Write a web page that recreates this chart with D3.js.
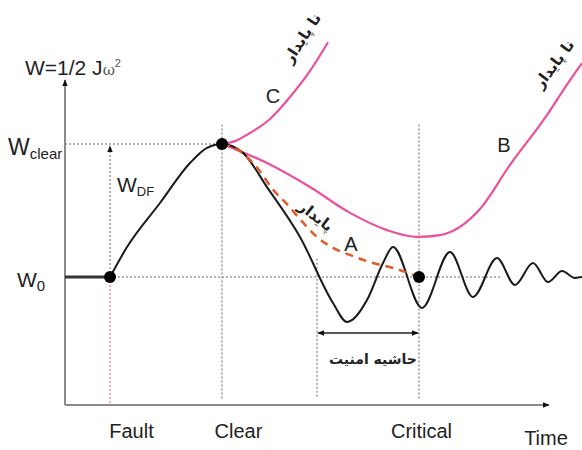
<!DOCTYPE html>
<html>
<head>
<meta charset="utf-8">
<script src="https://cdn.jsdelivr.net/npm/d3@7"></script>
<style>
  body { margin: 0; background: #fff; }
  text { fill: #222; }
</style>
</head>
<body>
<svg id="chart" width="582" height="450"></svg>
<script>
// Time instants of the events on the time axis
const eventNames = ["Fault", "Clear", "Critical"];
const eventTimes = [0.9, 3.14, 7.08];
const marginStartTime = 5.04;   // left edge of the safety margin

// Kinetic energy levels
const W0 = 4.9;
const Wclear = 10;

// Rotor energy before the fault
const preFaultT = [0, 0.9];
const preFaultW = [4.9, 4.9];

// Swing of the rotor energy after the fault (black curve)
const swingT = [0.9, 1.24, 1.9, 2.5, 2.84, 3.14, 3.56, 4.04, 4.7, 5.36, 5.64, 6.04, 6.36, 6.56, 7.14, 7.7, 8.16, 8.64, 9.0, 9.36, 9.66, 9.94, 10.2, 10.34];
const swingW = [4.9, 6.05, 7.74, 9.27, 9.85, 10, 9.66, 8.35, 6.44, 3.91, 3.18, 4.02, 5.44, 6.05, 3.72, 5.86, 4.14, 5.63, 4.6, 5.44, 4.71, 5.13, 4.87, 4.9];

// Case A: stable, dashed curve reaching W0 at the critical time
const caseAT = [3.14, 3.5, 3.86, 4.14, 4.46, 4.7, 5.04, 5.36, 5.7, 6.16, 6.56, 7.08];
const caseAW = [10, 9.72, 9.05, 8.3, 7.65, 7.12, 6.44, 6.02, 5.75, 5.44, 5.25, 4.9];

// Case B: unstable after passing a minimum
const caseBT = [3.14, 4.04, 4.9, 5.7, 6.44, 7.04, 7.5, 8.3, 8.9, 9.6, 10.1, 10.34];
const caseBW = [10, 9.27, 8.35, 7.36, 6.7, 6.44, 6.51, 7.51, 9.2, 11.0, 12.45, 13.1];

// Case C: unstable right after clearing
const caseCT = [3.14, 3.4, 3.7, 4.1, 4.5, 4.9, 5.26];
const caseCW = [10, 10.11, 10.42, 10.96, 11.8, 12.8, 13.9];

const stableLabel = "پایدار";
const unstableLabel = "نا پایدار";
const marginLabel = "حاشیه امنیت";

const svg = d3.select("#chart");
const latin = "'Liberation Sans', Arial, sans-serif";
const persian = "'DejaVu Sans', sans-serif";

const x = d3.scaleLinear().domain([0, 10]).range([65, 565]);
const y = d3.scaleLinear().domain([0, 10]).range([405, 144]);

const pink = "#ec4f9c";
const orange = "#e2592a";
const guide = "#9a9a9a";

const defs = svg.append("defs");
defs.append("marker")
  .attr("id", "arrow")
  .attr("viewBox", "0 0 10 10")
  .attr("refX", 9).attr("refY", 5)
  .attr("markerWidth", 7).attr("markerHeight", 7)
  .attr("markerUnits", "userSpaceOnUse")
  .attr("orient", "auto-start-reverse")
  .append("path").attr("d", "M0,1L10,5L0,9z").attr("fill", "#111");

// Dotted guide lines
function dotted(x1, y1, x2, y2, color) {
  return svg.append("line")
    .attr("x1", x1).attr("y1", y1).attr("x2", x2).attr("y2", y2)
    .attr("stroke", color || guide)
    .attr("stroke-width", 1.5)
    .attr("stroke-dasharray", "2,2");
}
const [tFault, tClear, tCritical] = eventTimes;
dotted(x(0), y(Wclear), x(tClear), y(Wclear));
dotted(x(tFault), y(W0), x(8.7), y(W0));
dotted(x(tFault), y(W0), x(tFault), y(0), "#f08cbc");
dotted(x(tClear), y(10.75), x(tClear), y(0.25));
dotted(x(tCritical), y(10.75), x(tCritical), y(0.25));
dotted(x(marginStartTime), y(5.6), x(marginStartTime), y(0.25));
dotted(x(tFault), y(W0) - 8, x(tFault), y(Wclear) + 2).attr("marker-end", "url(#arrow)");

// Axes
const xAxis = d3.axisBottom(x)
  .tickValues(eventTimes)
  .tickSize(0)
  .tickFormat((d, i) => eventNames[i]);
const gx = svg.append("g").attr("transform", `translate(0,${y(0)})`).call(xAxis);
gx.select(".domain").remove();
const labelShift = { Fault: 21, Clear: 16, Critical: 2 };
gx.selectAll(".tick text")
  .attr("y", 33).attr("dy", 0)
  .attr("dx", (d, i) => labelShift[eventNames[i]])
  .style("font-family", latin).style("font-size", "20px").style("fill", "#222");

svg.append("line")
  .attr("x1", x(0)).attr("y1", y(0)).attr("x2", x(9.68)).attr("y2", y(0))
  .attr("stroke", "#8a8a8a").attr("stroke-width", 2)
  .attr("marker-end", "url(#arrow)");
svg.append("line")
  .attr("x1", x(0)).attr("y1", y(0)).attr("x2", x(0)).attr("y2", y(12.45))
  .attr("stroke", "#8a8a8a").attr("stroke-width", 2)
  .attr("marker-end", "url(#arrow)");

svg.append("text").attr("x", 546).attr("y", 445)
  .attr("text-anchor", "middle")
  .style("font-family", latin).style("font-size", "20px")
  .text("Time");

// Axis title
const title = svg.append("text").attr("x", 25).attr("y", 75)
  .style("font-family", latin).style("font-size", "21px");
title.append("tspan").text("W=1/2 J");
title.append("tspan").style("font-family", "'DejaVu Serif', serif").style("font-size", "15px").style("fill", "#555").text("ω");
title.append("tspan").attr("dy", -8).style("font-size", "11px").style("fill", "#555").text("2");

// Level labels
const lc = svg.append("text").attr("x", 8).attr("y", y(Wclear) + 11)
  .style("font-family", latin).style("font-size", "23px");
lc.append("tspan").text("W");
lc.append("tspan").attr("dy", 4).style("font-size", "15px").text("clear");

const l0 = svg.append("text").attr("x", 17).attr("y", y(W0) + 10)
  .style("font-family", latin).style("font-size", "21px");
l0.append("tspan").text("W");
l0.append("tspan").attr("dy", 4).style("font-size", "15px").text("0");

const ldf = svg.append("text").attr("x", 117).attr("y", 192)
  .style("font-family", latin).style("font-size", "21px");
ldf.append("tspan").text("W");
ldf.append("tspan").attr("dy", 4).style("font-size", "13px").text("DF");

// Curves
const line = d3.line().x(d => x(d[0])).y(d => y(d[1])).curve(d3.curveMonotoneX);
const zipTW = (ts, ws) => ts.map((t, i) => [t, ws[i]]);

svg.append("path").datum(zipTW(preFaultT, preFaultW))
  .attr("d", d3.line().x(d => x(d[0])).y(d => y(d[1])))
  .attr("fill", "none").attr("stroke", "#333").attr("stroke-width", 3);

svg.append("path").datum(zipTW(caseCT, caseCW))
  .attr("d", line).attr("fill", "none").attr("stroke", pink).attr("stroke-width", 2.2);
svg.append("path").datum(zipTW(caseBT, caseBW))
  .attr("d", line).attr("fill", "none").attr("stroke", pink).attr("stroke-width", 2.2);
svg.append("path").datum(zipTW(swingT, swingW))
  .attr("d", line).attr("fill", "none").attr("stroke", "#1a1a1a").attr("stroke-width", 2);
svg.append("path").datum(zipTW(caseAT, caseAW))
  .attr("d", line).attr("fill", "none").attr("stroke", orange)
  .attr("stroke-width", 2.5).attr("stroke-dasharray", "8,6");

// Event points
svg.selectAll("circle.event")
  .data([[tFault, W0], [tClear, Wclear], [tCritical, W0]])
  .join("circle").attr("class", "event")
  .attr("cx", d => x(d[0])).attr("cy", d => y(d[1])).attr("r", 6)
  .attr("fill", "#000");

// Safety margin
svg.append("line")
  .attr("x1", x(marginStartTime) + 1).attr("y1", 333)
  .attr("x2", x(tCritical) - 1).attr("y2", 333)
  .attr("stroke", "#222").attr("stroke-width", 1.5)
  .attr("marker-start", "url(#arrow)").attr("marker-end", "url(#arrow)");
svg.append("text")
  .attr("x", (x(marginStartTime) + x(tCritical)) / 2 + 5).attr("y", 364)
  .attr("text-anchor", "middle")
  .style("font-family", persian).style("font-size", "14px").style("font-weight", "bold")
  .text(marginLabel);

// Case letters
const letter = (txt, px, py) => svg.append("text").attr("x", px).attr("y", py)
  .attr("text-anchor", "middle")
  .style("font-family", latin).style("font-size", "20px").text(txt);
letter("C", 273, 103);
letter("B", 504, 152);
letter("A", 351, 251);

// Stability labels
const rotated = (txt, cx, cy, angle, size) => svg.append("text")
  .attr("transform", `translate(${cx},${cy}) rotate(${angle})`)
  .attr("text-anchor", "middle").attr("dy", "0.35em")
  .style("font-family", persian).style("font-size", size + "px").style("font-weight", "bold")
  .text(txt);
rotated(unstableLabel, 302, 38, -57, 15);
rotated(unstableLabel, 554, 64, -53, 15);
rotated(stableLabel, 316, 216, 38, 15);
</script>
</body>
</html>
